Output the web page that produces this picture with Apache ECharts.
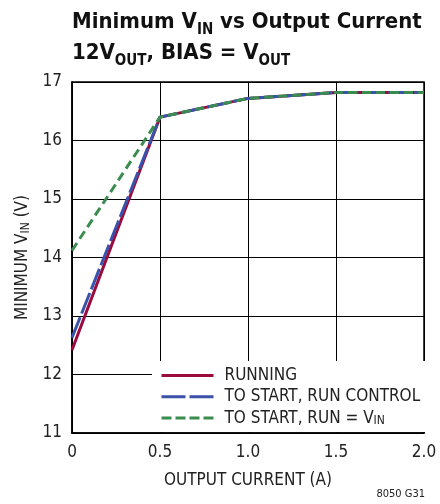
<!DOCTYPE html>
<html>
<head>
<meta charset="utf-8">
<script src="https://cdn.jsdelivr.net/npm/echarts@6/dist/echarts.min.js"></script>
<style>
html,body{margin:0;padding:0;background:#fff;}
#chart{width:440px;height:504px;}
</style>
</head>
<body>
<div id="chart"></div>
<script>
// Data
const outputCurrent = [0, 0.5, 1.0, 1.5, 2.0];
const running = [12.42, 16.40, 16.72, 16.82, 16.82];
const startRunControl = [12.63, 16.40, 16.72, 16.82, 16.82];
const startRunVin = [14.12, 16.40, 16.72, 16.82, 16.82];
const seriesNames = ['RUNNING', 'TO START, RUN CONTROL', 'TO START, RUN = V_IN'];
const xTicks = [0, 0.5, 1.0, 1.5, 2.0];
const yTicks = [11, 12, 13, 14, 15, 16, 17];

const FONT = '"DejaVu Sans Condensed", "Liberation Sans Narrow", "Roboto", sans-serif';
const colors = ['#9b0b3b', '#3a52a9', '#3b8c4f'];

function pairs(ys) { return outputCurrent.map((x, i) => [x, ys[i]]); }

const chart = echarts.init(document.getElementById('chart'), null, {renderer: 'canvas'});
chart.setOption({
  animation: false,
  backgroundColor: '#fff',
  title: [{
    left: 72, top: 7, padding: 0,
    text: '{t|Minimum V}{s|IN}{t| vs Output Current}\n{t|12V}{s|OUT}{t|, BIAS = V}{s|OUT}',
    textStyle: {
      rich: {
        t: {fontFamily: FONT, fontWeight: 'bold', fontSize: 22, lineHeight: 31, color: '#111'},
        s: {fontFamily: FONT, fontWeight: 'bold', fontSize: 15, lineHeight: 21, verticalAlign: 'bottom', color: '#111'}
      }
    }
  }, {
    right: 15, top: 489, padding: 0,
    text: '8050 G31',
    textStyle: {fontFamily: FONT, fontSize: 11, fontWeight: 'normal', color: '#222'}
  }],
  grid: {
    left: 72, right: 16, top: 82, bottom: 71,
    show: true, borderColor: '#000', borderWidth: 1.5, backgroundColor: '#fff'
  },
  legend: {
    orient: 'vertical',
    left: 152, top: 361,
    padding: [6, 6, 5, 8],
    backgroundColor: '#fff',
    itemWidth: 52, itemHeight: 14, itemGap: 4.3,
    itemStyle: {opacity: 0},
    data: [
      {name: seriesNames[0], lineStyle: {color: colors[0], width: 3, type: 'solid'}},
      {name: seriesNames[1], lineStyle: {color: colors[1], width: 3, type: [24, 4]}},
      {name: seriesNames[2], lineStyle: {color: colors[2], width: 3, type: [10, 4]}}
    ],
    formatter: function (name) {
      if (name === seriesNames[2]) return '{a|TO START, RUN = V}{b|IN}';
      return '{a|' + name + '}';
    },
    textStyle: {
      padding: [0, 0, 0, 6],
      rich: {
        a: {fontFamily: FONT, fontSize: 17, lineHeight: 18, color: '#222'},
        b: {fontFamily: FONT, fontSize: 12, lineHeight: 12, verticalAlign: 'bottom', color: '#222'}
      }
    }
  },
  xAxis: {
    type: 'value', min: 0, max: 2, interval: 0.5,
    name: 'OUTPUT CURRENT (A)', nameLocation: 'middle', nameGap: 39,
    nameTextStyle: {fontFamily: FONT, fontSize: 17, color: '#222'},
    axisLine: {show: true, lineStyle: {color: '#000', width: 1.5}},
    axisTick: {show: false},
    axisLabel: {
      fontFamily: FONT, fontSize: 17, color: '#222', margin: 11,
      formatter: v => (v === 0 ? '0' : v.toFixed(1))
    },
    splitLine: {show: true, lineStyle: {color: '#000', width: 1}}
  },
  yAxis: {
    type: 'value', min: 11, max: 17, interval: 1,
    name: '{a|MINIMUM V}{b|IN}{a| (V)}', nameLocation: 'middle', nameGap: 40, nameRotate: 90,
    nameTextStyle: {
      rich: {
        a: {fontFamily: FONT, fontSize: 17, lineHeight: 18, color: '#222'},
        b: {fontFamily: FONT, fontSize: 12, lineHeight: 12, verticalAlign: 'bottom', color: '#222'}
      }
    },
    axisLine: {show: true, lineStyle: {color: '#000', width: 1.5}},
    axisTick: {show: false},
    axisLabel: {fontFamily: FONT, fontSize: 17, color: '#222', margin: 10},
    splitLine: {show: true, lineStyle: {color: '#000', width: 1}}
  },
  series: [
    {name: seriesNames[0], type: 'line', data: pairs(running), symbol: 'none', z: 3,
     lineStyle: {color: colors[0], width: 3, type: 'solid'}, itemStyle: {color: colors[0]}},
    {name: seriesNames[1], type: 'line', data: pairs(startRunControl), symbol: 'none', z: 4,
     lineStyle: {color: colors[1], width: 3, type: [22, 4]}, itemStyle: {color: colors[1]}},
    {name: seriesNames[2], type: 'line', data: pairs(startRunVin), symbol: 'none', z: 5,
     lineStyle: {color: colors[2], width: 3, type: [9, 5]}, itemStyle: {color: colors[2]}}
  ]
});
</script>
</body>
</html>
